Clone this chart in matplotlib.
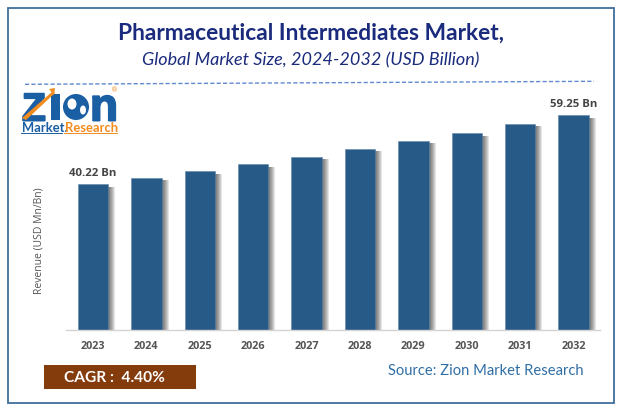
import matplotlib
matplotlib.use("Agg")
import matplotlib.pyplot as plt
import matplotlib.patheffects as pe
from matplotlib.patches import Rectangle, Circle, Polygon, Ellipse

# chart values
years = ["2023", "2024", "2025", "2026", "2027", "2028", "2029", "2030", "2031", "2032"]
revenue = [40.22, 41.9, 43.8, 45.7, 47.7, 49.9, 52.1, 54.3, 56.8, 59.25]
first_label = "40.22 Bn"
last_label = "59.25 Bn"

W, H = 621, 411
BAR = "#285a87"
TITLE = "#1a2a7c"
GREY = "#555555"
LOGO_BLUE = "#1a5ea3"
LOGO_ORANGE = "#f28c1e"

fig = plt.figure(figsize=(W / 100, H / 100), dpi=100, facecolor="white")

# background layer in pixel coords (y down) for frame, logo etc
bg = fig.add_axes([0, 0, 1, 1])
bg.set_xlim(0, W)
bg.set_ylim(H, 0)
bg.axis("off")

bg.add_patch(Rectangle((7.5, 8.5), 606, 394.5, fill=False, ec="#3f6f9c", lw=1.3))
bg.text(311.5, 33, "Pharmaceutical Intermediates Market,", family="Lato", weight="bold",
        fontsize=16.4, color=TITLE, ha="center", va="center")
bg.text(310.5, 60.5, "Global Market Size, 2024-2032 (USD Billion)", family="Lato", style="italic",
        fontsize=13, color=TITLE, ha="center", va="center")
bg.plot([25, 594], [84.3, 81.3], color="#5f8ad0", lw=1.0, dashes=(3, 1.6))

# logo
thick = [pe.withStroke(linewidth=1.4, foreground=LOGO_BLUE)]
bg.text(22, 120.5, "Z", family="Liberation Sans", weight="bold", fontsize=28, color=LOGO_BLUE,
        ha="left", va="baseline", path_effects=thick)
bg.add_patch(Polygon([[22, 118], [53, 91], [55, 93], [26, 120]], fc=LOGO_ORANGE, ec="none", zorder=3))
bg.add_patch(Polygon([[49, 89], [55, 88], [54, 95]], fc=LOGO_ORANGE, ec="none", zorder=3))
bg.add_patch(Rectangle((51, 94), 9, 26.5, fc=LOGO_BLUE, ec="none"))
bg.add_patch(Circle((76, 107), 13, fc=LOGO_BLUE, ec="none"))
bg.add_patch(Ellipse((72, 104), 9, 11, fc="white", ec="none"))
bg.add_patch(Ellipse((83, 110), 6, 9, fc="white", ec="none"))
bg.text(90, 120.5, "n", family="Liberation Sans", weight="bold", fontsize=33, color=LOGO_BLUE,
        ha="left", va="baseline", path_effects=thick)
bg.text(115, 90, "®", fontsize=5, color=LOGO_ORANGE, ha="center", va="center")
bg.text(22, 128, "Market.", family="Lato", weight="bold", fontsize=9.4, color=LOGO_BLUE,
        ha="left", va="center")
bg.text(65, 128, "Research", family="Lato", weight="bold", fontsize=9.4, color=LOGO_ORANGE,
        ha="left", va="center")
bg.plot([21, 62], [133.5, 133.5], color=LOGO_BLUE, lw=0.7)
bg.plot([64, 117], [133.5, 133.5], color=LOGO_ORANGE, lw=0.7)

# cagr box and source
bg.add_patch(Rectangle((44, 365), 152, 24, fc="#843c0c", ec="none"))
bg.text(64, 377.5, "CAGR :  4.40%", family="Lato", weight="bold", fontsize=11.2, color="white",
        ha="left", va="center")
bg.text(388, 371, "Source: Zion Market Research", family="Lato", fontsize=10.6, color="#2f6ea5",
        ha="left", va="center")

# plot area: x 66-600 px, baseline at y=330
ax = fig.add_axes([66 / W, 1 - 330 / H, 534 / W, 230 / H])
ax.patch.set_alpha(0)
x = list(range(len(years)))

# fake soft shadow to the right of the bars
step = 1 / 53.4
for k in range(1, 8):
    shadow = [v - 0.7 for v in revenue]
    ax.bar([i + k * step for i in x], shadow, width=0.57, color="black", alpha=0.1, zorder=1, lw=0)
ax.bar(x, revenue, width=0.57, color=BAR, edgecolor="#5f87aa", linewidth=0.4, zorder=2)

ax.set_xlim(-0.505, 9.495)
ax.set_ylim(0, 230 / (215 / 59.25))
ax.set_xticks(x)
ax.set_xticklabels(years, family="Open Sans", weight="bold", fontsize=7.8, color=GREY)
ax.tick_params(axis="x", length=0, pad=8)
ax.set_yticks([])
for side in ["top", "right", "left"]:
    ax.spines[side].set_visible(False)
ax.spines["bottom"].set_color("#d4d4d4")
ax.spines["bottom"].set_linewidth(1)

ax.annotate(first_label, (0, revenue[0]), xytext=(0, 5.8), textcoords="offset points", ha="center",
            family="Open Sans", weight="bold", fontsize=8.2, color="#444444")
ax.annotate(last_label, (9, revenue[9]), xytext=(0, 5.8), textcoords="offset points", ha="center",
            family="Open Sans", weight="bold", fontsize=8.2, color="#444444")

bg.text(39, 241, "Revenue (USD Mn/Bn)", family="Open Sans", fontsize=7.5, color=GREY,
        rotation=90, ha="center", va="center")

fig.savefig("out.png", dpi=100)
